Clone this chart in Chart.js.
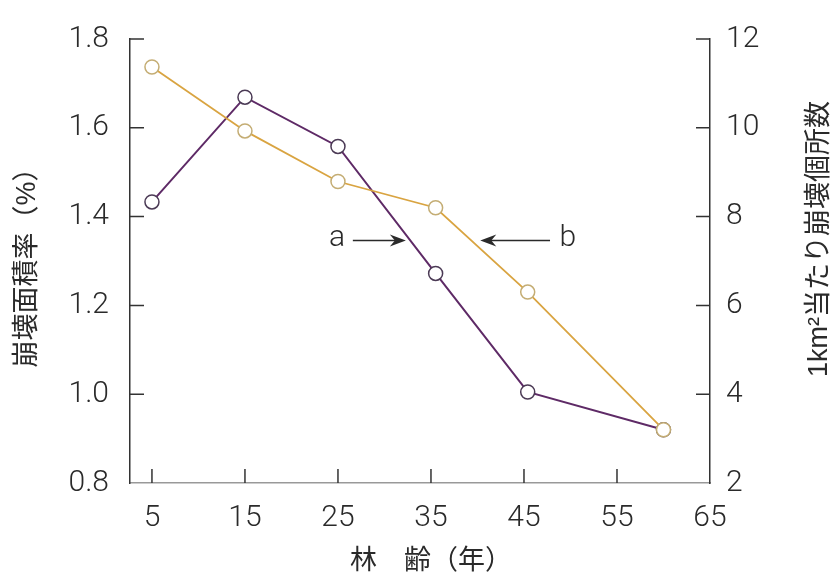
<!DOCTYPE html>
<html lang="ja">
<head>
<meta charset="UTF-8">
<title>林齢と崩壊</title>
<script src="https://cdn.jsdelivr.net/npm/chart.js@4.4.0/dist/chart.umd.min.js"></script>
<style>
  html, body { margin: 0; padding: 0; background: #fff; }
  #wrap { width: 835px; height: 580px; }
</style>
</head>
<body>
<div id="wrap"><canvas id="forest_chart" width="835" height="580"></canvas></div>
<script>
// 林齢 (年)
var ageYears = [5, 15, 25, 35.5, 45.4, 60];
// a : 崩壊面積率 (%)  -> left axis
var areaRate = [1.433, 1.669, 1.558, 1.272, 1.005, 0.92];
// b : 1km2当たり崩壊個所数 -> right axis
var countPerKm2 = [11.37, 9.93, 8.79, 8.20, 6.30, 3.20];

var xTickValues = [5, 15, 25, 35, 45, 55, 65];
var leftTickValues = [0.8, 1.0, 1.2, 1.4, 1.6, 1.8];
var rightTickValues = [2, 4, 6, 8, 10, 12];

// arrow labels, in data units of x / left axis
var labelA = { text: 'a', x: 24.9, tail: 26.6, head: 32.3, y: 1.346 };
var labelB = { text: 'b', x: 49.7, tail: 47.8, head: 40.3, y: 1.346 };

var numFamily = 'Roboto, "Liberation Sans", Arial, sans-serif';
var tickFont = { family: numFamily, size: 30, weight: 300 };
var jpFont = '27px "Liberation Sans", "Noto Sans CJK JP", sans-serif';

function fixTicks(values) {
  return function(scale) {
    scale.ticks = values.map(function(v) { return { value: v }; });
  };
}

var innerTicks = {
  id: 'innerTicks',
  afterDatasetsDraw: function(chart) {
    var ctx = chart.ctx, area = chart.chartArea, len = 14;
    var sx = chart.scales.x, sy = chart.scales.y, sy1 = chart.scales.y1;
    ctx.save();
    ctx.strokeStyle = '#333';
    ctx.lineWidth = 1.5;
    ctx.beginPath();
    sx.ticks.forEach(function(t) {
      if (t.value >= sx.max) return;
      var p = sx.getPixelForValue(t.value);
      ctx.moveTo(p, area.bottom);
      ctx.lineTo(p, area.bottom - len);
    });
    sy.ticks.forEach(function(t) {
      if (t.value <= sy.min) return;
      var p = sy.getPixelForValue(t.value);
      ctx.moveTo(area.left, p);
      ctx.lineTo(area.left + len, p);
    });
    sy1.ticks.forEach(function(t) {
      if (t.value <= sy1.min) return;
      var p = sy1.getPixelForValue(t.value);
      ctx.moveTo(area.right, p);
      ctx.lineTo(area.right - len, p);
    });
    ctx.stroke();
    ctx.restore();
  }
};

function arrow(ctx, x1, x2, y) {
  var dir = x2 > x1 ? 1 : -1;
  ctx.beginPath();
  ctx.moveTo(x1, y);
  ctx.lineTo(x2 - dir * 6, y);
  ctx.stroke();
  ctx.beginPath();
  ctx.moveTo(x2, y);
  ctx.lineTo(x2 - dir * 16, y - 6);
  ctx.lineTo(x2 - dir * 11, y);
  ctx.lineTo(x2 - dir * 16, y + 6);
  ctx.closePath();
  ctx.fill();
}

var titlesAndNotes = {
  id: 'titlesAndNotes',
  afterDraw: function(chart) {
    var ctx = chart.ctx, area = chart.chartArea;
    var sx = chart.scales.x, sy = chart.scales.y;
    ctx.save();
    ctx.fillStyle = '#2a2a2a';
    ctx.strokeStyle = '#2a2a2a';
    ctx.lineWidth = 1.5;
    ctx.font = jpFont;
    ctx.textAlign = 'center';
    ctx.textBaseline = 'middle';

    // x title
    ctx.fillText('林　齢（年）', area.left + 301, area.bottom + 79);

    // left title
    ctx.save();
    ctx.translate(28, (area.top + area.bottom) / 2);
    ctx.rotate(-Math.PI / 2);
    ctx.fillText('崩壊面積率（%）', 0, 0);
    ctx.restore();

    // right title
    ctx.save();
    ctx.translate(area.right + 110, (area.top + area.bottom) / 2 - 22);
    ctx.rotate(-Math.PI / 2);
    ctx.fillText('1km²当たり崩壊個所数', 0, 0);
    ctx.restore();

    // a / b arrows
    ctx.font = '300 30px ' + numFamily;
    [labelA, labelB].forEach(function(l) {
      var y = sy.getPixelForValue(l.y);
      ctx.fillText(l.text, sx.getPixelForValue(l.x), y - 2);
      arrow(ctx, sx.getPixelForValue(l.tail), sx.getPixelForValue(l.head), y);
    });
    ctx.restore();
  }
};

var ctx = document.getElementById('forest_chart');
new Chart(ctx, {
  type: 'line',
  data: {
    datasets: [
      {
        label: 'a',
        data: ageYears.map(function(x, i) { return { x: x, y: areaRate[i] }; }),
        yAxisID: 'y',
        borderColor: '#5e2a66',
        borderWidth: 2,
        pointRadius: 7,
        pointBackgroundColor: '#fff',
        pointBorderColor: '#4b3a55',
        pointBorderWidth: 1.5,
        order: 1
      },
      {
        label: 'b',
        data: ageYears.map(function(x, i) { return { x: x, y: countPerKm2[i] }; }),
        yAxisID: 'y1',
        borderColor: '#d9a441',
        borderWidth: 1.8,
        pointRadius: 7,
        pointBackgroundColor: '#fff',
        pointBorderColor: '#c4ad74',
        pointBorderWidth: 1.5,
        order: 0
      }
    ]
  },
  options: {
    responsive: false,
    animation: false,
    layout: { padding: { top: 25, left: 0, right: 0, bottom: 0 } },
    plugins: {
      legend: { display: false },
      tooltip: { enabled: false }
    },
    scales: {
      x: {
        type: 'linear',
        min: 2.64,
        max: 65,
        afterBuildTicks: fixTicks(xTickValues),
        afterFit: function(s) { s.height = 97; },
        grid: { drawOnChartArea: false, drawTicks: false },
        border: { display: true, color: '#999', width: 1.5 },
        ticks: { font: tickFont, color: '#2a2a2a', padding: 17, maxRotation: 0,
                 callback: function(v) { return String(v); } }
      },
      y: {
        position: 'left',
        min: 0.8,
        max: 1.8,
        afterBuildTicks: fixTicks(leftTickValues),
        afterFit: function(s) { s.width = 130; },
        grid: { drawOnChartArea: false, drawTicks: false },
        border: { display: true, color: '#333', width: 1.5 },
        ticks: { font: tickFont, color: '#2a2a2a', padding: 21,
                 callback: function(v) { return v.toFixed(1); } }
      },
      y1: {
        position: 'right',
        min: 2,
        max: 12,
        afterBuildTicks: fixTicks(rightTickValues),
        afterFit: function(s) { s.width = 125; },
        grid: { drawOnChartArea: false, drawTicks: false },
        border: { display: true, color: '#333', width: 1.5 },
        ticks: { font: tickFont, color: '#2a2a2a', padding: 16,
                 callback: function(v) { return String(v); } }
      }
    }
  },
  plugins: [innerTicks, titlesAndNotes]
});
</script>
</body>
</html>
